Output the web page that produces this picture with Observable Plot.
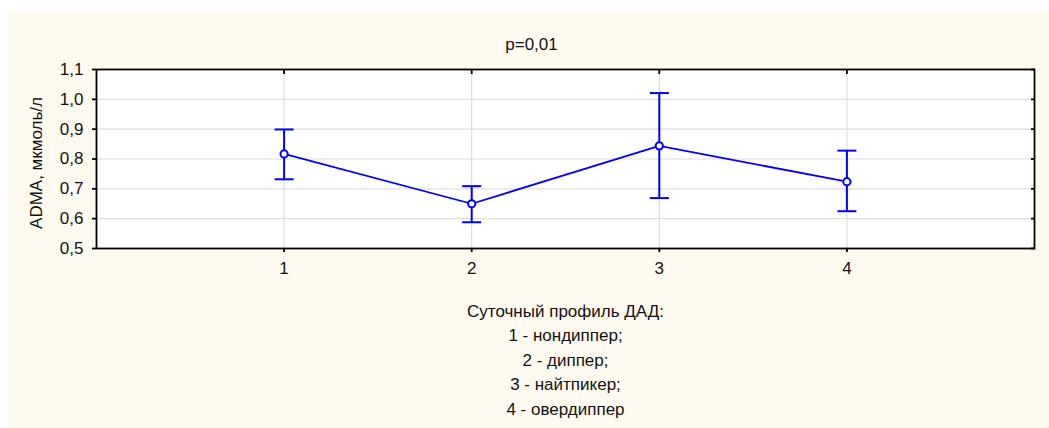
<!DOCTYPE html>
<html><head><meta charset="utf-8">
<script src="https://cdn.jsdelivr.net/npm/d3@7"></script>
<script src="https://cdn.jsdelivr.net/npm/@observablehq/plot@0.6"></script>
<style>
html,body{margin:0;padding:0;background:#fff;}
#chart{position:absolute;left:7px;top:11px;width:1042px;height:417px;background:#fffaf0;}
</style></head><body><div id="chart"></div>
<script>
const groups = [1, 2, 3, 4];
const means = [0.817, 0.650, 0.844, 0.724];
const lower = [0.732, 0.588, 0.669, 0.625];
const upper = [0.899, 0.709, 1.021, 0.828];
const xTicks = [1, 2, 3, 4];
const yTicks = [0.5, 0.6, 0.7, 0.8, 0.9, 1.0, 1.1];
const title = "p=0,01";
const yLabel = "ADMA, мкмоль/л";
const xLabelLines = ["Суточный профиль ДАД:", "1 - нондиппер;", "2 - диппер;", "3 - найтпикер;", "4 - овердиппер"];

const data = groups.map((g, i) => ({g, mean: means[i], lo: lower[i], hi: upper[i]}));
const comma = d => d.toFixed(1).replace(".", ",");
const capSymbol = {draw(ctx, size) { const r = Math.sqrt(size / Math.PI); ctx.moveTo(-r, 0); ctx.lineTo(r, 0); }};
const blue = "#0000ff";
const ink = "#111";

const plot = Plot.plot({
  width: 1042, height: 417,
  marginLeft: 89, marginRight: 15, marginTop: 58, marginBottom: 180,
  style: {background: "transparent", fontFamily: "'Liberation Sans', Arial, sans-serif", fontSize: "17px", color: ink},
  x: {domain: [0, 5]},
  y: {domain: [0.5, 1.1]},
  marks: [
    Plot.frame({fill: "white"}),
    Plot.gridX(xTicks, {stroke: "#dedede", strokeOpacity: 1, strokeWidth: 1.2}),
    Plot.gridY(yTicks, {stroke: "#dedede", strokeOpacity: 1, strokeWidth: 1.2}),
    Plot.axisY(yTicks, {anchor: "left", tickSize: 4, tickPadding: 9, tickFormat: comma, label: null, stroke: "black", strokeWidth: 1.8, fill: ink}),
    Plot.axisY(yTicks, {anchor: "right", tickSize: 4, insetRight: 4, tickFormat: () => "", label: null, stroke: "black", strokeWidth: 1.8}),
    Plot.axisX(xTicks, {anchor: "bottom", tickSize: 4, tickPadding: 9, tickFormat: d => String(d), label: null, stroke: "black", strokeWidth: 1.8, fill: ink}),
    Plot.axisX(xTicks, {anchor: "top", tickSize: 4, insetTop: 4, tickFormat: () => "", label: null, stroke: "black", strokeWidth: 1.8}),
    Plot.frame({stroke: "black", strokeWidth: 1.8}),
    Plot.ruleX(data, {x: "g", y1: "lo", y2: "hi", stroke: blue, strokeWidth: 2}),
    Plot.dot(data, {x: "g", y: "lo", symbol: capSymbol, r: 9.5, stroke: blue, strokeWidth: 2}),
    Plot.dot(data, {x: "g", y: "hi", symbol: capSymbol, r: 9.5, stroke: blue, strokeWidth: 2}),
    Plot.line(data, {x: "g", y: "mean", stroke: blue, strokeWidth: 1.8}),
    Plot.dot(data, {x: "g", y: "mean", r: 3.6, stroke: blue, fill: "white", strokeWidth: 2}),
    Plot.text([title], {frameAnchor: "top", dy: -32, dx: -34, fill: ink}),
    Plot.text([yLabel], {frameAnchor: "left", textAnchor: "middle", rotate: -90, dx: -60, dy: 4, fill: ink}),
    Plot.text([xLabelLines.join("\n")], {frameAnchor: "bottom", lineAnchor: "top", dy: 51, lineHeight: 1.44, fill: ink})
  ]
});
document.getElementById("chart").appendChild(plot);
</script></body></html>
